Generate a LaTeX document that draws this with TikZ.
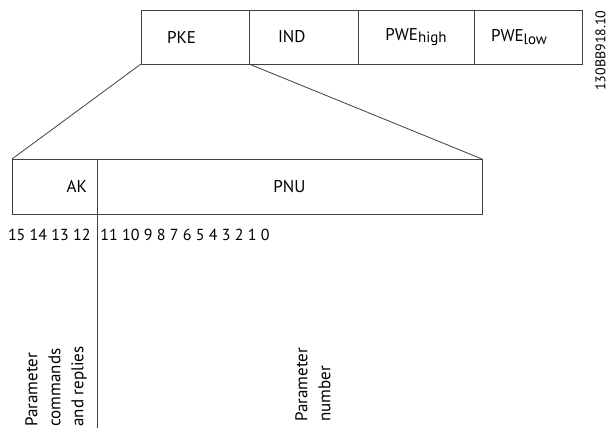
\documentclass[tikz,border=0pt]{standalone}
\usepackage{fontspec}
\setmainfont{PT Sans}
\usetikzlibrary{positioning}

\begin{document}
\begin{tikzpicture}[x=1pt, y=-1pt, line width=0.8pt, every node/.style={font=\fontsize{17}{23}\selectfont},
    field/.style={draw=black!75, minimum height=54pt, inner sep=0pt, outer sep=0pt},
    sidelabel/.style={rotate=90, align=left, inner sep=0pt, anchor=north west}]
    \useasboundingbox (0,0) rectangle (609,428);
    % top word
    \node[field, minimum width=108pt, anchor=north west, text width=56pt, align=left] (pke) at (141,10) {PKE};
    \node[field, minimum width=109pt, text width=51pt, align=left, right=0pt of pke] (ind) {IND};
    \node[field, minimum width=116pt, right=0pt of ind] (pwehigh) {PWE\raisebox{-0.3ex}{\fontsize{15}{15}\selectfont high}};
    \node[field, minimum width=108pt, text width=74pt, align=left, right=0pt of pwehigh] (pwelow) {PWE\raisebox{-0.3ex}{\fontsize{15}{15}\selectfont low}};
    \node[rotate=90, anchor=south east, inner sep=0pt, font=\fontsize{14}{14}\selectfont] (code) at (606,10) {130BB918.10};
    % PKE broken down
    \node[field, minimum height=55pt, minimum width=85pt, anchor=north west, text width=65pt, align=right] (ak) at (12,159) {AK};
    \node[field, minimum height=55pt, minimum width=385pt, right=0pt of ak] (pnu) {PNU};
    \draw[black!75] (pke.south west) -- (ak.north west);
    \draw[black!75] (ind.south west) -- (pnu.north east);
    \coordinate (bottom) at (97,428);
    \draw[black!75] (ak.north east) -- (bottom);
    % bit numbers
    \node[anchor=east, inner sep=0pt, font=\fontsize{16}{16}\selectfont] (akbits) at (91,235) {15 14 13 12};
    \node[anchor=west, inner sep=0pt, font=\fontsize{16}{16}\selectfont] (pnubits) at (100,235) {11 10 9 8 7 6 5 4 3 2 1 0};
    % meaning
    \node[sidelabel] (akinfo) at (25,427) {Parameter\\commands\\and replies};
    \node[sidelabel] (pnuinfo) at (295,422) {Parameter\\number};
\end{tikzpicture}
\end{document}
